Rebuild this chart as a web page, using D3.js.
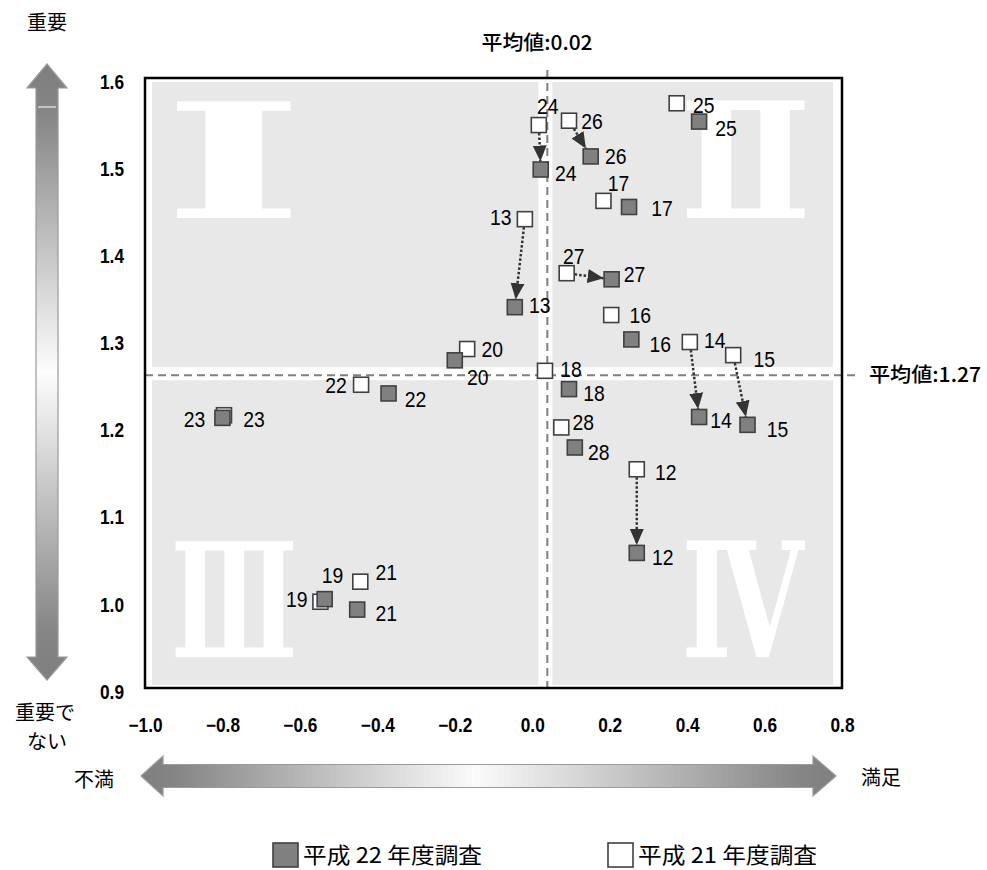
<!DOCTYPE html>
<html><head><meta charset="utf-8">
<script src="https://cdn.jsdelivr.net/npm/d3@7"></script>
<style>body{margin:0;background:#fff} svg{display:block}</style>
</head><body>
<svg id="c" width="987" height="870"></svg>
<script>
// ---------- data ----------
const ids     = [12, 13, 14, 15, 16, 17, 18, 19, 20, 21, 22, 23, 24, 25, 26, 27, 28];
// 平成21年度調査 (white squares)
const satH21  = [0.270, -0.019, 0.407, 0.519, 0.204, 0.184, 0.033, -0.547, -0.168, -0.444, -0.442, -0.796, 0.017, 0.373, 0.095, 0.089, 0.075];
const impH21  = [1.151, 1.438, 1.297, 1.282, 1.328, 1.459, 1.264, 0.999, 1.289, 1.022, 1.248, 1.213, 1.546, 1.571, 1.551, 1.376, 1.199];
// 平成22年度調査 (grey squares)
const satH22  = [0.270, -0.045, 0.431, 0.556, 0.256, 0.250, 0.095, -0.536, -0.200, -0.452, -0.371, -0.800, 0.022, 0.431, 0.151, 0.205, 0.110];
const impH22  = [1.055, 1.337, 1.211, 1.202, 1.300, 1.452, 1.243, 1.002, 1.276, 0.990, 1.238, 1.210, 1.495, 1.550, 1.510, 1.369, 1.176];
const changeIds = [12, 13, 14, 15, 24, 26, 27];
const xTicks = [-1.0, -0.8, -0.6, -0.4, -0.2, 0.0, 0.2, 0.4, 0.6, 0.8];
const yTicks = [0.9, 1.0, 1.1, 1.2, 1.3, 1.4, 1.5, 1.6];
const meanLabels = ["平均値:0.02", "平均値:1.27"];
const meanLineValues = [0.039, 1.259];
const quadrantLabels = ["Ⅰ", "Ⅱ", "Ⅲ", "Ⅳ"];
const seriesNames = ["平成 22 年度調査", "平成 21 年度調査"];

// ---------- layout (label placement offsets, px) ----------
const offH21 = [[29,3],[-24,-2],[25,-2],[31,4],[29,0],[15,-18],[26,-2],[12,-27],[25,0],[26,-10],[-25,0],[30,4],[9,-19],[27,2],[23,0],[7,-17],[22,-5]];
const offH22 = [[26,4],[25,-2],[22,3],[30,4],[29,5],[33,1],[25,4],[-28,0],[23,17],[29,4],[27,6],[-28,1],[25,4],[27,7],[25,0],[23,-5],[24,5]];

const svg = d3.select("#c");
const x = d3.scaleLinear().domain([-1.0, 0.8]).range([145, 842]);
const y = d3.scaleLinear().domain([0.9, 1.6]).range([688, 78]);
const JP = '"Noto Sans CJK JP","Noto Sans",sans-serif';
const LAT = '"Liberation Sans",Arial,sans-serif';
const SERIF = '"DejaVu Serif","Liberation Serif",serif';

function condense(sel, k){
  sel.each(function(){
    const w = this.getComputedTextLength();
    d3.select(this).attr("textLength", w*k).attr("lengthAdjust","spacingAndGlyphs");
  });
}

const defs = svg.append("defs");
const gv = defs.append("linearGradient").attr("id","gv").attr("x1",0).attr("y1",0).attr("x2",0).attr("y2",1);
[[0,"#7f7f7f"],[0.08,"#858585"],[0.5,"#fdfdfd"],[0.92,"#858585"],[1,"#7f7f7f"]].forEach(s=>gv.append("stop").attr("offset",s[0]).attr("stop-color",s[1]));
const gh = defs.append("linearGradient").attr("id","gh").attr("x1",0).attr("y1",0).attr("x2",1).attr("y2",0);
[[0,"#7f7f7f"],[0.05,"#858585"],[0.48,"#fbfbfb"],[0.95,"#858585"],[1,"#7f7f7f"]].forEach(s=>gh.append("stop").attr("offset",s[0]).attr("stop-color",s[1]));
defs.append("marker").attr("id","ah").attr("markerUnits","userSpaceOnUse")
  .attr("markerWidth",16).attr("markerHeight",16).attr("viewBox","0 0 16 16")
  .attr("refX",16).attr("refY",8).attr("orient","auto")
  .append("path").attr("d","M0,1 L16,8 L0,15 Z").attr("fill","#333");

// ---------- quadrant backgrounds ----------
const mx = x(meanLineValues[0]), my = y(meanLineValues[1]);
const L = 152, R = 833, T = 82, B = 685;
const quads = [
  {x0:L, x1:mx-9, y0:T, y1:my-8},
  {x0:mx+5, x1:R, y0:T, y1:my-8},
  {x0:L, x1:mx-9, y0:my+5, y1:B},
  {x0:mx+5, x1:R, y0:my+5, y1:B}
];
svg.append("g").selectAll("rect").data(quads).join("rect")
  .attr("x",d=>d.x0).attr("y",d=>d.y0).attr("width",d=>d.x1-d.x0).attr("height",d=>d.y1-d.y0)
  .attr("fill","#e8e8e8");

// roman numerals, fitted to ink boxes
const numBoxes = [[175,101,118,117],[686,101,119,117],[175,541,119,116],[686,541,119,116]];
const cv = document.createElement("canvas").getContext("2d");
cv.font = 'bold 100px ' + SERIF;
quadrantLabels.forEach((s,i)=>{
  const m = cv.measureText(s);
  const il = -m.actualBoundingBoxLeft, ir = m.actualBoundingBoxRight;
  const it = -m.actualBoundingBoxAscent, ib = m.actualBoundingBoxDescent;
  const b = numBoxes[i];
  const sx = b[2]/(ir-il), sy = b[3]/(ib-it);
  svg.append("text").text(s)
    .attr("font-family", SERIF).attr("font-weight","bold").attr("font-size",100)
    .attr("fill","#fff")
    .attr("transform",`translate(${b[0]},${b[1]}) scale(${sx},${sy}) translate(${-il},${-it})`);
});

// ---------- mean lines ----------
svg.append("line").attr("x1",mx).attr("x2",mx).attr("y1",70).attr("y2",694)
  .attr("stroke","#808080").attr("stroke-width",2).attr("stroke-dasharray","8,5");
svg.append("line").attr("x1",145).attr("x2",858).attr("y1",my).attr("y2",my)
  .attr("stroke","#808080").attr("stroke-width",2).attr("stroke-dasharray","8,5");
svg.append("text").text(meanLabels[0]).attr("x",537).attr("y",43).attr("dy","0.36em")
  .attr("text-anchor","middle").attr("font-family",JP).attr("font-size",20).attr("font-weight",500)
  .attr("textLength",111).attr("lengthAdjust","spacingAndGlyphs");
svg.append("text").text(meanLabels[1]).attr("x",869).attr("y",375).attr("dy","0.36em")
  .attr("font-family",JP).attr("font-size",20).attr("font-weight",500)
  .attr("textLength",112).attr("lengthAdjust","spacingAndGlyphs");

// ---------- change arrows ----------
const h = 8;
const arrows = changeIds.map(id=>{
  const i = ids.indexOf(id);
  const x0 = x(satH21[i]), y0 = y(impH21[i]), x1 = x(satH22[i]), y1 = y(impH22[i]);
  const dx = x1-x0, dy = y1-y0, len = Math.hypot(dx,dy), ux = dx/len, uy = dy/len;
  const t = h/Math.max(Math.abs(ux),Math.abs(uy));
  return {x0:x0+ux*t, y0:y0+uy*t, x1:x1-ux*t, y1:y1-uy*t};
});
svg.append("g").selectAll("line").data(arrows).join("line")
  .attr("x1",d=>d.x0).attr("y1",d=>d.y0).attr("x2",d=>d.x1).attr("y2",d=>d.y1)
  .attr("stroke","#333").attr("stroke-width",2.5).attr("stroke-dasharray","2.5,2")
  .attr("marker-end","url(#ah)");

// ---------- markers ----------
const rows = ids.map((id,i)=>({id,i}));
svg.append("g").selectAll("rect").data(rows).join("rect")
  .attr("x",d=>x(satH21[d.i])-7.5).attr("y",d=>y(impH21[d.i])-7.5).attr("width",15).attr("height",15)
  .attr("fill","#fff").attr("stroke","#404040").attr("stroke-width",1.6);
svg.append("g").selectAll("rect").data(rows).join("rect")
  .attr("x",d=>x(satH22[d.i])-7.5).attr("y",d=>y(impH22[d.i])-7.5).attr("width",15).attr("height",15)
  .attr("fill","#808080").attr("stroke","#404040").attr("stroke-width",1.6);

// labels
const lab = svg.append("g").attr("font-family",LAT).attr("font-size",22).attr("text-anchor","middle").attr("fill","#000");
lab.selectAll("text.a").data(rows).join("text").attr("class","a")
  .attr("x",d=>x(satH21[d.i])+offH21[d.i][0]).attr("y",d=>y(impH21[d.i])+offH21[d.i][1]).attr("dy","0.36em").text(d=>d.id);
lab.selectAll("text.b").data(rows).join("text").attr("class","b")
  .attr("x",d=>x(satH22[d.i])+offH22[d.i][0]).attr("y",d=>y(impH22[d.i])+offH22[d.i][1]).attr("dy","0.36em").text(d=>d.id);
condense(lab.selectAll("text"), 0.88);

// ---------- frame & axes ----------
svg.append("rect").attr("x",145).attr("y",78).attr("width",697).attr("height",610)
  .attr("fill","none").attr("stroke","#000").attr("stroke-width",2.5);
const fmt = d3.format(".1f");
const ya = svg.append("g").attr("transform","translate(145,4)")
  .call(d3.axisLeft(y).tickValues(yTicks).tickFormat(fmt).tickSize(0).tickPadding(21));
const xa = svg.append("g").attr("transform","translate(0,688)")
  .call(d3.axisBottom(x).tickValues(xTicks).tickFormat(fmt).tickSize(0).tickPadding(30));
[ya,xa].forEach(a=>{
  a.select(".domain").remove();
  const t = a.selectAll("text").attr("font-family",LAT).attr("font-size",19.5).attr("font-weight","bold").attr("fill","#000");
  condense(t, 0.885);
});

// ---------- direction arrows ----------
svg.append("path")
  .attr("d","M47,64 L67,88 L58,88 L58,657 L67,657 L47,680 L27,657 L36,657 L36,88 L27,88 Z")
  .attr("fill","url(#gv)").attr("stroke","#9a9a9a").attr("stroke-width",1.2);
svg.append("line").attr("x1",38).attr("x2",56).attr("y1",107).attr("y2",107).attr("stroke","#fff").attr("stroke-width",1);
svg.append("path")
  .attr("d","M141,776 L163,756 L163,764.5 L813,764.5 L813,756 L836,776 L813,796 L813,787.5 L163,787.5 L163,796 Z")
  .attr("fill","url(#gh)").attr("stroke","#9a9a9a").attr("stroke-width",1.2);

const words = [["重要",47,23,"middle"],["重要で",45,713,"middle"],["ない",47,742,"middle"],["不満",94,780,"middle"],["満足",881,778,"middle"]];
svg.append("g").selectAll("text").data(words).join("text")
  .attr("x",d=>d[1]).attr("y",d=>d[2]).attr("dy","0.36em").attr("text-anchor",d=>d[3])
  .attr("font-family",JP).attr("font-size",20).text(d=>d[0]);

// ---------- legend ----------
const leg = [{x:273, fill:"#808080"},{x:608, fill:"#fff"}];
const lg = svg.append("g").selectAll("g").data(leg).join("g").attr("transform",d=>`translate(${d.x},843)`);
lg.append("rect").attr("width",25).attr("height",24).attr("fill",d=>d.fill).attr("stroke","#404040").attr("stroke-width",1.6);
lg.append("text").attr("x",30).attr("y",12.5).attr("dy","0.36em").attr("font-family",JP).attr("font-size",22)
  .attr("textLength",179).attr("lengthAdjust","spacingAndGlyphs")
  .text((d,i)=>seriesNames[i]);
</script>
</body></html>
